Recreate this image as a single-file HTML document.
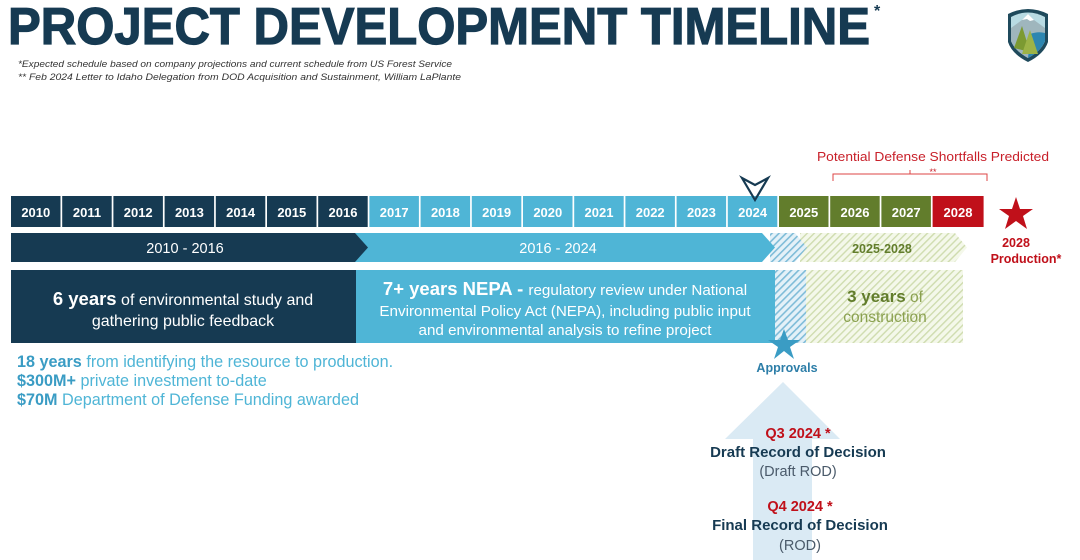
<!DOCTYPE html>
<html><head><meta charset="utf-8"><style>
html,body{margin:0;padding:0;background:#fff;width:1080px;height:560px;overflow:hidden}
svg{display:block}
text{font-family:"Liberation Sans",sans-serif}
</style></head><body>
<svg width="1080" height="560" viewBox="0 0 1080 560" xmlns="http://www.w3.org/2000/svg">
<defs>
<pattern id="hb" width="5" height="5" patternUnits="userSpaceOnUse" patternTransform="rotate(45)">
<rect width="5" height="5" fill="#e4f1f8"/><rect width="1.6" height="5" fill="#7fbcd8"/></pattern>
<pattern id="hg" width="5" height="5" patternUnits="userSpaceOnUse" patternTransform="rotate(45)">
<rect width="5" height="5" fill="#f4f8ea"/><rect width="1.4" height="5" fill="#cfdcaf"/></pattern>
</defs>
<text x="8" y="44" font-size="52" font-weight="bold" fill="#163a52" stroke="#163a52" stroke-width="1.2" textLength="862" lengthAdjust="spacingAndGlyphs">PROJECT DEVELOPMENT TIMELINE</text>
<text x="874" y="16" font-size="16" font-weight="bold" fill="#163a52">*</text>
<text x="18" y="67" font-size="9.5" font-style="italic" fill="#333" textLength="434" lengthAdjust="spacingAndGlyphs">*Expected schedule based on company projections and current schedule from US Forest Service</text>
<text x="18" y="80" font-size="9.5" font-style="italic" fill="#333" textLength="443" lengthAdjust="spacingAndGlyphs">** Feb 2024 Letter to Idaho Delegation from DOD Acquisition and Sustainment, William LaPlante</text>
<path d="M1008 14 Q1028 4 1048 14 L1048 42 Q1044 54 1028 62 Q1012 54 1008 42 Z" fill="#1f4a5c"/>
<path d="M1011 17 Q1028 8 1045 17 L1045 41 Q1041 51 1028 58 Q1015 51 1011 41 Z" fill="#b8dbe3"/>
<path d="M1011 28 L1022 20 L1028 14 L1034 20 L1045 28 L1045 41 Q1041 51 1028 58 Q1015 51 1011 41 Z" fill="#9fb6bd"/>
<path d="M1022 20 L1028 14 L1034 20 L1030 21 L1027 19 Z" fill="#fff"/>
<path d="M1030 34 Q1038 31 1045 33 L1045 41 Q1041 51 1028 58 L1030 40 Z" fill="#2d86b0"/>
<path d="M1014 48 L1022 26 L1030 52 Z" fill="#7c9a32"/>
<path d="M1022 54 L1030 30 L1038 54 Z" fill="#9cb347"/>
<text x="933" y="161" font-size="12.5" fill="#c8202a" text-anchor="middle" textLength="232" lengthAdjust="spacingAndGlyphs">Potential Defense Shortfalls Predicted</text>
<path d="M833 181 V174 H987 V181 M910 174 V170" stroke="#d44" fill="none" stroke-width="1"/>
<text x="933" y="175" font-size="9" fill="#c8202a" text-anchor="middle">**</text>
<g font-size="13" font-weight="bold" text-anchor="middle">
<rect x="11" y="196" width="49.5" height="31" fill="#163a52"/><text x="35.8" y="217" fill="#fff">2010</text>
<rect x="62.2" y="196" width="49.5" height="31" fill="#163a52"/><text x="87" y="217" fill="#fff">2011</text>
<rect x="113.4" y="196" width="49.5" height="31" fill="#163a52"/><text x="138.2" y="217" fill="#fff">2012</text>
<rect x="164.6" y="196" width="49.5" height="31" fill="#163a52"/><text x="189.4" y="217" fill="#fff">2013</text>
<rect x="215.8" y="196" width="49.5" height="31" fill="#163a52"/><text x="240.6" y="217" fill="#fff">2014</text>
<rect x="267" y="196" width="49.5" height="31" fill="#163a52"/><text x="291.8" y="217" fill="#fff">2015</text>
<rect x="318.2" y="196" width="49.5" height="31" fill="#163a52"/><text x="343" y="217" fill="#fff">2016</text>
<rect x="369.4" y="196" width="49.5" height="31" fill="#4fb5d6"/><text x="394.2" y="217" fill="#fff">2017</text>
<rect x="420.6" y="196" width="49.5" height="31" fill="#4fb5d6"/><text x="445.4" y="217" fill="#fff">2018</text>
<rect x="471.8" y="196" width="49.5" height="31" fill="#4fb5d6"/><text x="496.6" y="217" fill="#fff">2019</text>
<rect x="523" y="196" width="49.5" height="31" fill="#4fb5d6"/><text x="547.8" y="217" fill="#fff">2020</text>
<rect x="574.2" y="196" width="49.5" height="31" fill="#4fb5d6"/><text x="599" y="217" fill="#fff">2021</text>
<rect x="625.4" y="196" width="49.5" height="31" fill="#4fb5d6"/><text x="650.2" y="217" fill="#fff">2022</text>
<rect x="676.6" y="196" width="49.5" height="31" fill="#4fb5d6"/><text x="701.4" y="217" fill="#fff">2023</text>
<rect x="727.8" y="196" width="49.5" height="31" fill="#4fb5d6"/><text x="752.6" y="217" fill="#fff">2024</text>
<rect x="779" y="196" width="49.5" height="31" fill="#627d2c"/><text x="803.8" y="217" fill="#fff">2025</text>
<rect x="830.2" y="196" width="49.5" height="31" fill="#627d2c"/><text x="855" y="217" fill="#fff">2026</text>
<rect x="881.4" y="196" width="49.5" height="31" fill="#627d2c"/><text x="906.2" y="217" fill="#fff">2027</text>
<rect x="932.6" y="196" width="51" height="31" fill="#c0101a"/><text x="958" y="217" fill="#fff">2028</text>
</g>
<path d="M742 178 L755 185 L768 178 L755 200 Z" fill="none" stroke="#163a52" stroke-width="2.2"/>
<path d="M800 233 H955 L967 247.5 L955 262 H800 Z" fill="url(#hg)"/>
<path d="M770 233 H795 L807 247.5 L795 262 H770 Z" fill="url(#hb)"/>
<path d="M355 233 H762 L775 247.5 L762 262 H355 Z" fill="#4fb5d6"/>
<path d="M11 233 H355 L368 247.5 L355 262 H11 Z" fill="#163a52"/>
<text x="185" y="253" font-size="14.5" fill="#fff" text-anchor="middle">2010 - 2016</text>
<text x="558" y="253" font-size="14.5" fill="#fff" text-anchor="middle">2016 - 2024</text>
<text x="882" y="253" font-size="12.5" font-weight="bold" fill="#627d2c" text-anchor="middle">2025-2028</text>
<rect x="11" y="270" width="345" height="73" fill="#163a52"/>
<rect x="356" y="270" width="419" height="73" fill="#4fb5d6"/>
<rect x="775" y="270" width="31" height="73" fill="url(#hb)"/>
<rect x="806" y="270" width="157" height="73" fill="url(#hg)"/>
<text x="183" y="305" font-size="16" fill="#fff" text-anchor="middle"><tspan font-weight="bold" font-size="18.5">6 years</tspan> of environmental study and</text>
<text x="183" y="326" font-size="16" fill="#fff" text-anchor="middle">gathering public feedback</text>
<text x="565" y="295" font-size="15.2" fill="#fff" text-anchor="middle"><tspan font-weight="bold" font-size="18.5">7+ years NEPA - </tspan>regulatory review under National</text>
<text x="565" y="316" font-size="15.2" fill="#fff" text-anchor="middle">Environmental Policy Act (NEPA), including public input</text>
<text x="565" y="335" font-size="15.2" fill="#fff" text-anchor="middle">and environmental analysis to refine project</text>
<text x="885" y="302" font-size="15.5" fill="#627d2c" text-anchor="middle"><tspan font-weight="bold" font-size="17">3 years</tspan><tspan fill="#8aa04f"> of</tspan></text>
<text x="885" y="322" font-size="15.5" fill="#8aa04f" text-anchor="middle">construction</text>
<polygon points="784,329 788,340 800,340 790,347 794,359 784,351 774,359 778,347 768,340 780,340" fill="#3a9cc4"/>
<text x="787" y="372" font-size="12.5" font-weight="bold" fill="#2d7ea8" text-anchor="middle">Approvals</text>
<polygon points="1016,197 1020,209 1033,209 1023,216 1027,229 1016,221 1005,229 1009,216 999,209 1012,209" fill="#c0101a"/>
<text x="1016" y="247" font-size="12.5" font-weight="bold" fill="#c0101a" text-anchor="middle">2028</text>
<text x="1026" y="263" font-size="12.5" font-weight="bold" fill="#c0101a" text-anchor="middle">Production*</text>
<g font-size="16.2" fill="#4fb5d6">
<text x="17" y="367"><tspan font-weight="bold" fill="#3a9cc4">18 years</tspan> from identifying the resource to production.</text>
<text x="17" y="386"><tspan font-weight="bold" fill="#3a9cc4">$300M+</tspan> private investment to-date</text>
<text x="17" y="405"><tspan font-weight="bold" fill="#3a9cc4">$70M</tspan> Department of Defense Funding awarded</text>
</g>
<path d="M783 382 L840 439 H812 V560 H753 V439 H725 Z" fill="#daeaf4"/>
<text x="798" y="438" font-size="14.5" font-weight="bold" fill="#c0101a" text-anchor="middle">Q3 2024 *</text>
<text x="798" y="457" font-size="15" font-weight="bold" fill="#163a52" text-anchor="middle">Draft Record of Decision</text>
<text x="798" y="476" font-size="14.5" fill="#4a5a6a" text-anchor="middle">(Draft ROD)</text>
<text x="800" y="511" font-size="14.5" font-weight="bold" fill="#c0101a" text-anchor="middle">Q4 2024 *</text>
<text x="800" y="530" font-size="15" font-weight="bold" fill="#163a52" text-anchor="middle">Final Record of Decision</text>
<text x="800" y="550" font-size="14.5" fill="#4a5a6a" text-anchor="middle">(ROD)</text>
</svg>
</body></html>
